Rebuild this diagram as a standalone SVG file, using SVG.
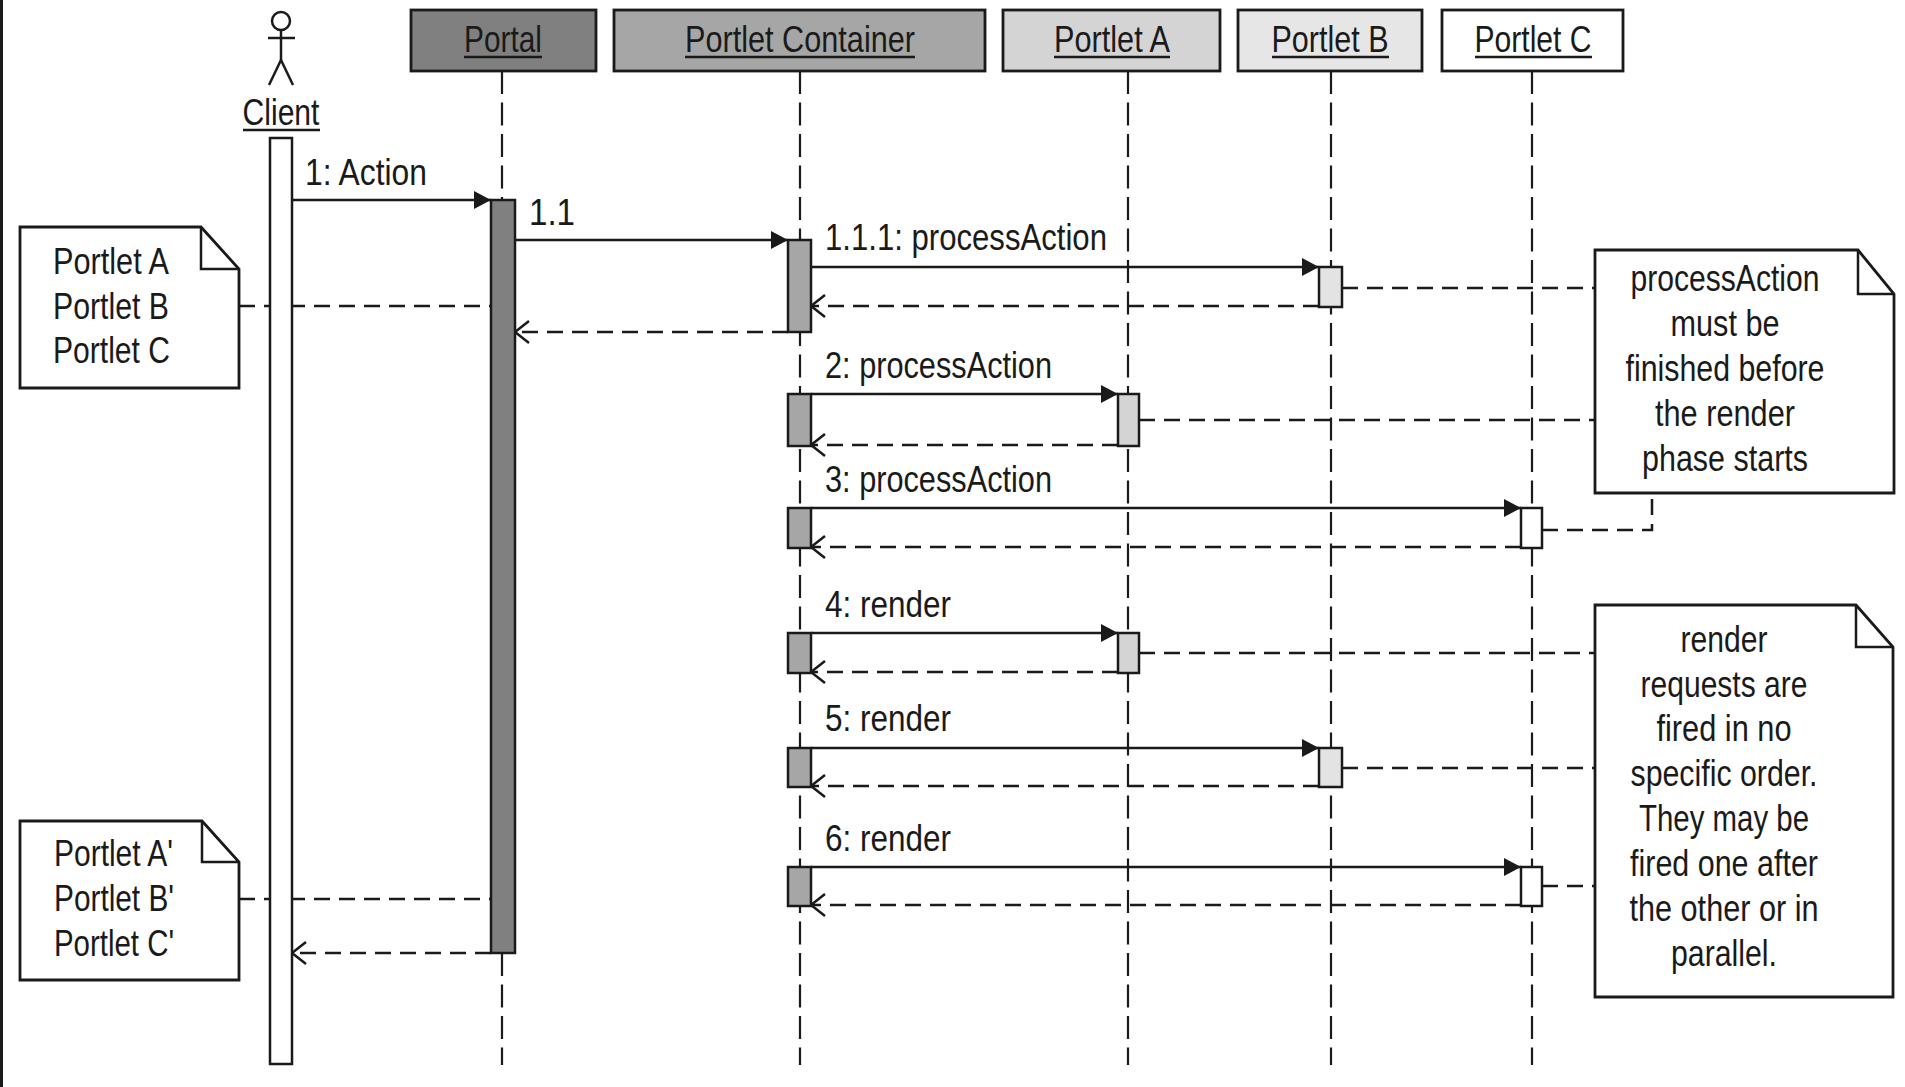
<svg xmlns="http://www.w3.org/2000/svg" width="1905" height="1087" viewBox="0 0 1905 1087">
<style>
text { font-family: "Liberation Sans Narrow", "Arial Narrow", "Liberation Sans", Arial, sans-serif; font-size: 37px; fill: #1a1a1a; }
.mid { text-anchor: middle; }
.box { stroke: #1a1a1a; stroke-width: 2.8; }
.life { stroke: #1a1a1a; stroke-width: 2.2; stroke-dasharray: 23 8.5; fill: none; }
.msg { stroke: #1a1a1a; stroke-width: 2.5; fill: none; }
.ret { stroke: #1a1a1a; stroke-width: 2.5; fill: none; stroke-dasharray: 16 9; }
.act { stroke: #1a1a1a; stroke-width: 2.5; }
.note { fill: #ffffff; stroke: #1a1a1a; stroke-width: 2.8; stroke-linejoin: miter; }
.fold { fill: none; stroke: #1a1a1a; stroke-width: 2.5; }
.ul { stroke: #1a1a1a; stroke-width: 2.5; }
.actor { fill: none; stroke: #1a1a1a; stroke-width: 2.5; }
</style>
<defs>
<marker id="arrowFilled" markerUnits="userSpaceOnUse" markerWidth="18" markerHeight="20" refX="17" refY="9" orient="auto">
<path d="M0,0 L17,9 L0,18 Z" fill="#1a1a1a"/>
</marker>
<marker id="arrowOpen" markerUnits="userSpaceOnUse" markerWidth="20" markerHeight="26" refX="16" refY="12" orient="auto">
<path d="M2,1 L16,12 L2,23" fill="none" stroke="#1a1a1a" stroke-width="2.5"/>
</marker>
</defs>
<rect x="0" y="0" width="1905" height="1087" fill="#ffffff"/>
<rect x="0" y="0" width="3" height="1087" fill="#1a1a1a"/>

<g id="client">
<circle class="actor" cx="281" cy="21" r="9"/>
<line class="actor" x1="281" y1="30" x2="281" y2="60"/>
<line class="actor" x1="268" y1="38" x2="295" y2="38"/>
<line class="actor" x1="281" y1="60" x2="269" y2="85"/>
<line class="actor" x1="281" y1="60" x2="293" y2="85"/>
<text class="mid" x="281" y="125" textLength="77" lengthAdjust="spacingAndGlyphs">Client</text>
<line class="ul" x1="243" y1="130" x2="320" y2="130"/>
</g>

<g id="portal">
<rect class="box" x="411" y="10" width="185" height="61" fill="#808080"/>
<text class="mid" x="503" y="52" textLength="78" lengthAdjust="spacingAndGlyphs">Portal</text>
<line class="ul" x1="464" y1="57" x2="542" y2="57"/>
<line class="life" x1="502" y1="71" x2="502" y2="1065"/>
</g>

<g id="portlet-container">
<rect class="box" x="614" y="10" width="371" height="61" fill="#a6a6a6"/>
<text class="mid" x="800" y="52" textLength="230" lengthAdjust="spacingAndGlyphs">Portlet Container</text>
<line class="ul" x1="685" y1="57" x2="915" y2="57"/>
<line class="life" x1="800" y1="71" x2="800" y2="1065"/>
</g>

<g id="portlet-a">
<rect class="box" x="1003" y="10" width="217" height="61" fill="#d4d4d4"/>
<text class="mid" x="1112" y="52" textLength="116" lengthAdjust="spacingAndGlyphs">Portlet A</text>
<line class="ul" x1="1054" y1="57" x2="1170" y2="57"/>
<line class="life" x1="1128" y1="71" x2="1128" y2="1065"/>
</g>

<g id="portlet-b">
<rect class="box" x="1238" y="10" width="184" height="61" fill="#e6e6e6"/>
<text class="mid" x="1330" y="52" textLength="117" lengthAdjust="spacingAndGlyphs">Portlet B</text>
<line class="ul" x1="1272" y1="57" x2="1389" y2="57"/>
<line class="life" x1="1331" y1="71" x2="1331" y2="1065"/>
</g>

<g id="portlet-c">
<rect class="box" x="1442" y="10" width="181" height="61" fill="#ffffff"/>
<text class="mid" x="1533" y="52" textLength="117" lengthAdjust="spacingAndGlyphs">Portlet C</text>
<line class="ul" x1="1475" y1="57" x2="1592" y2="57"/>
<line class="life" x1="1532" y1="71" x2="1532" y2="1065"/>
</g>

<g id="connectors">
<line class="msg" x1="292" y1="200" x2="491" y2="200" marker-end="url(#arrowFilled)"/>
<line class="msg" x1="515" y1="240" x2="788" y2="240" marker-end="url(#arrowFilled)"/>
<line class="msg" x1="811" y1="267" x2="1319" y2="267" marker-end="url(#arrowFilled)"/>
<line class="ret" x1="1319" y1="306" x2="811" y2="306" marker-end="url(#arrowOpen)"/>
<line class="ret" x1="788" y1="332" x2="515" y2="332" marker-end="url(#arrowOpen)"/>
<line class="msg" x1="811" y1="394" x2="1118" y2="394" marker-end="url(#arrowFilled)"/>
<line class="ret" x1="1118" y1="445" x2="811" y2="445" marker-end="url(#arrowOpen)"/>
<line class="msg" x1="811" y1="508" x2="1521" y2="508" marker-end="url(#arrowFilled)"/>
<line class="ret" x1="1521" y1="547" x2="811" y2="547" marker-end="url(#arrowOpen)"/>
<line class="msg" x1="811" y1="633" x2="1118" y2="633" marker-end="url(#arrowFilled)"/>
<line class="ret" x1="1118" y1="672" x2="811" y2="672" marker-end="url(#arrowOpen)"/>
<line class="msg" x1="811" y1="748" x2="1319" y2="748" marker-end="url(#arrowFilled)"/>
<line class="ret" x1="1319" y1="786" x2="811" y2="786" marker-end="url(#arrowOpen)"/>
<line class="msg" x1="811" y1="867" x2="1521" y2="867" marker-end="url(#arrowFilled)"/>
<line class="ret" x1="1521" y1="905" x2="811" y2="905" marker-end="url(#arrowOpen)"/>
<line class="ret" x1="491" y1="953" x2="292" y2="953" marker-end="url(#arrowOpen)"/>
<line class="ret" x1="239" y1="306" x2="491" y2="306"/>
<line class="ret" x1="239" y1="899" x2="491" y2="899"/>
<line class="ret" x1="1342" y1="288" x2="1595" y2="288"/>
<line class="ret" x1="1139" y1="420" x2="1595" y2="420"/>
<polyline class="ret" points="1542,530 1652,530 1652,493"/>
<line class="ret" x1="1139" y1="653" x2="1595" y2="653"/>
<line class="ret" x1="1342" y1="768" x2="1595" y2="768"/>
<line class="ret" x1="1542" y1="886" x2="1595" y2="886"/>
<text x="305" y="185" textLength="122" lengthAdjust="spacingAndGlyphs">1: Action</text>
<text x="529" y="225" textLength="46" lengthAdjust="spacingAndGlyphs">1.1</text>
<text x="825" y="250" textLength="282" lengthAdjust="spacingAndGlyphs">1.1.1: processAction</text>
<text x="825" y="378" textLength="227" lengthAdjust="spacingAndGlyphs">2: processAction</text>
<text x="825" y="492" textLength="227" lengthAdjust="spacingAndGlyphs">3: processAction</text>
<text x="825" y="617" textLength="126" lengthAdjust="spacingAndGlyphs">4: render</text>
<text x="825" y="731" textLength="126" lengthAdjust="spacingAndGlyphs">5: render</text>
<text x="825" y="851" textLength="126" lengthAdjust="spacingAndGlyphs">6: render</text>
</g>

<g id="activations">
<rect class="act" x="270" y="138" width="22" height="926" fill="#ffffff"/>
<rect class="act" x="491" y="200" width="24" height="753" fill="#808080"/>
<rect class="act" x="788" y="240" width="23" height="92" fill="#a6a6a6"/>
<rect class="act" x="1319" y="267" width="23" height="40" fill="#e3e3e3"/>
<rect class="act" x="788" y="394" width="23" height="52" fill="#a6a6a6"/>
<rect class="act" x="1118" y="394" width="21" height="52" fill="#d4d4d4"/>
<rect class="act" x="788" y="508" width="23" height="40" fill="#a6a6a6"/>
<rect class="act" x="1521" y="508" width="21" height="40" fill="#ffffff"/>
<rect class="act" x="788" y="633" width="23" height="40" fill="#a6a6a6"/>
<rect class="act" x="1118" y="633" width="21" height="40" fill="#d4d4d4"/>
<rect class="act" x="788" y="748" width="23" height="39" fill="#a6a6a6"/>
<rect class="act" x="1319" y="748" width="23" height="39" fill="#e3e3e3"/>
<rect class="act" x="788" y="867" width="23" height="39" fill="#a6a6a6"/>
<rect class="act" x="1521" y="867" width="21" height="39" fill="#ffffff"/>
</g>

<g id="note-action-order">
<path class="note" d="M20,227 H201 L239,269 V388 H20 Z"/>
<path class="fold" d="M201,227 V269 H239"/>
<text x="53" y="274" textLength="116" lengthAdjust="spacingAndGlyphs">Portlet A</text>
<text x="53" y="319" textLength="116" lengthAdjust="spacingAndGlyphs">Portlet B</text>
<text x="53" y="363" textLength="117" lengthAdjust="spacingAndGlyphs">Portlet C</text>
</g>

<g id="note-render-order">
<path class="note" d="M20,821 H202 L239,862 V980 H20 Z"/>
<path class="fold" d="M202,821 V862 H239"/>
<text x="54" y="866" textLength="119" lengthAdjust="spacingAndGlyphs">Portlet A'</text>
<text x="54" y="911" textLength="120" lengthAdjust="spacingAndGlyphs">Portlet B'</text>
<text x="54" y="956" textLength="120" lengthAdjust="spacingAndGlyphs">Portlet C'</text>
</g>

<g id="note-process-action">
<path class="note" d="M1595,250 H1858 L1894,294 V493 H1595 Z"/>
<path class="fold" d="M1858,250 V294 H1894"/>
<text class="mid" x="1725" y="291" textLength="189" lengthAdjust="spacingAndGlyphs">processAction</text>
<text class="mid" x="1725" y="336" textLength="109" lengthAdjust="spacingAndGlyphs">must be</text>
<text class="mid" x="1725" y="381" textLength="199" lengthAdjust="spacingAndGlyphs">finished before</text>
<text class="mid" x="1725" y="426" textLength="140" lengthAdjust="spacingAndGlyphs">the render</text>
<text class="mid" x="1725" y="471" textLength="166" lengthAdjust="spacingAndGlyphs">phase starts</text>
</g>

<g id="note-render">
<path class="note" d="M1595,605 H1856 L1893,647 V997 H1595 Z"/>
<path class="fold" d="M1856,605 V647 H1893"/>
<text class="mid" x="1724" y="652" textLength="87" lengthAdjust="spacingAndGlyphs">render</text>
<text class="mid" x="1724" y="697" textLength="167" lengthAdjust="spacingAndGlyphs">requests are</text>
<text class="mid" x="1724" y="741" textLength="135" lengthAdjust="spacingAndGlyphs">fired in no</text>
<text class="mid" x="1724" y="786" textLength="187" lengthAdjust="spacingAndGlyphs">specific order.</text>
<text class="mid" x="1724" y="831" textLength="170" lengthAdjust="spacingAndGlyphs">They may be</text>
<text class="mid" x="1724" y="876" textLength="188" lengthAdjust="spacingAndGlyphs">fired one after</text>
<text class="mid" x="1724" y="921" textLength="189" lengthAdjust="spacingAndGlyphs">the other or in</text>
<text class="mid" x="1724" y="966" textLength="106" lengthAdjust="spacingAndGlyphs">parallel.</text>
</g>
</svg>
